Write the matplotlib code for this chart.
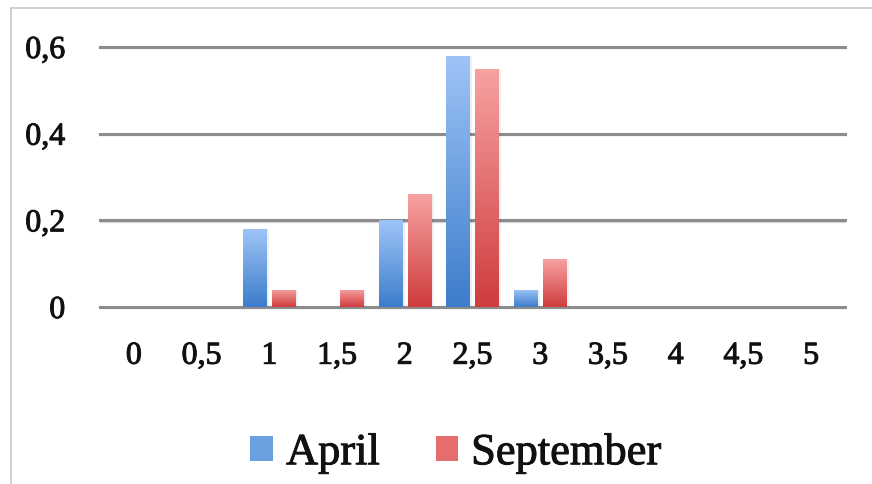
import matplotlib
matplotlib.use("Agg")
import matplotlib.pyplot as plt
import matplotlib.patheffects as pe
import numpy as np
from matplotlib.patches import Patch
from matplotlib.lines import Line2D
from matplotlib.colors import LinearSegmentedColormap

categories = ["0", "0,5", "1", "1,5", "2", "2,5", "3", "3,5", "4", "4,5", "5"]
april = [0, 0, 0.18, 0, 0.20, 0.58, 0.04, 0, 0, 0, 0]
september = [0, 0, 0.04, 0.04, 0.26, 0.55, 0.11, 0, 0, 0, 0]
yticks = [0, 0.2, 0.4, 0.6]
ytick_labels = ["0", "0,2", "0,4", "0,6"]

plt.rcParams['font.family'] = ['Liberation Serif', 'DejaVu Serif']

W, H = 872, 484
fig = plt.figure(figsize=(W / 100, H / 100), dpi=100)
ax = fig.add_axes([100 / W, (H - 307) / H, (845 - 100) / W, (307 - 47) / H])

x = np.arange(len(categories))
bw = 0.347
off = 0.214

blue_cmap = LinearSegmentedColormap.from_list("b", ["#3d7dcb", "#9ec4f7"])
red_cmap = LinearSegmentedColormap.from_list("r", ["#cf3c3c", "#f7a2a2"])
grad = np.linspace(0, 1, 256).reshape(-1, 1)

def gradient_bars(xs, vals, cmap):
    bars = ax.bar(xs, vals, width=bw, color="none", edgecolor="none", zorder=3)
    for b, v in zip(bars, vals):
        if v <= 0:
            continue
        x0 = b.get_x()
        ax.bar(x0 + bw / 2 + 0.02, v, width=bw + 0.04, color="#000000", alpha=0.06,
               zorder=2, align="center")
        im = ax.imshow(grad, cmap=cmap, aspect="auto", origin="lower",
                       extent=[x0, x0 + bw, 0, v], zorder=3, interpolation="bilinear")
        im.set_clip_path(b)
    return bars

for yv in yticks:
    ax.axhline(yv, color="#8c8c8c", lw=2.2, zorder=1, clip_on=False)
    ax.axhline(yv - 0.003, color="#d8d8d8", lw=1.0, zorder=0.9, clip_on=False)

gradient_bars(x - off, april, blue_cmap)
gradient_bars(x + off, september, red_cmap)

thick = [pe.withStroke(linewidth=0.7, foreground="#111111")]

ax.set_xlim(-0.5, len(categories) - 0.5)
ax.set_ylim(0, 0.6)
ax.set_xticks(x)
ax.set_xticklabels(categories, fontsize=23, color="#111111")
ax.set_yticks(yticks)
ax.set_yticklabels(ytick_labels, fontsize=23, color="#111111")
for t in ax.get_xticklabels() + ax.get_yticklabels():
    t.set_path_effects(thick)
ax.tick_params(axis="both", length=0)
ax.tick_params(axis="x", pad=25)
ax.tick_params(axis="y", pad=25)
for s in ax.spines.values():
    s.set_visible(False)
ax.set_facecolor("none")

handles = [Patch(facecolor="#6a9fe0", edgecolor="none"),
           Patch(facecolor="#e66d6d", edgecolor="none")]
leg = fig.legend(handles, ["April", "September"], loc="center",
                 bbox_to_anchor=(456 / W, 1 - 453 / H), ncol=2, frameon=False,
                 fontsize=32, handlelength=0.5, handleheight=0.5,
                 handletextpad=0.3, columnspacing=1.25)
for t in leg.get_texts():
    t.set_color("#111111")
    t.set_path_effects(thick)

fig.add_artist(Line2D([11 / W, 1], [1 - 8 / H, 1 - 8 / H], color="#c8c8c8", lw=1.2))
fig.add_artist(Line2D([11 / W, 11 / W], [0, 1 - 8 / H], color="#c8c8c8", lw=1.2))

fig.savefig("out.png", dpi=100)
